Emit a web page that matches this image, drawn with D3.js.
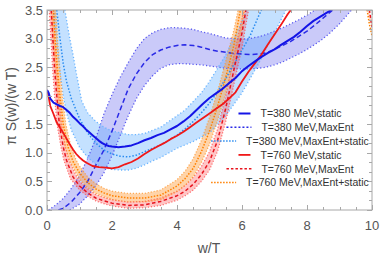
<!DOCTYPE html>
<html><head><meta charset="utf-8">
<script src="https://cdn.jsdelivr.net/npm/d3@7"></script>
<style>html,body{margin:0;padding:0;background:#fff;}svg{display:block;}</style>
</head><body>
<svg id="c" width="381" height="259"></svg>
<script>
// ---- data (x = w/T, y = pi S(w)/(w T)) ----
const xTicks = [0, 2, 4, 6, 8, 10];
const yTicks = [0.0, 0.5, 1.0, 1.5, 2.0, 2.5, 3.0, 3.5];
const legendLabels = ["T=380 MeV,static", "T=380 MeV,MaxEnt", "T=380 MeV,MaxEnt+static",
                      "T=760 MeV,static", "T=760 MeV,MaxEnt", "T=760 MeV,MaxEnt+static"];

const static380 = [[0,2.1],[0.05,2.05],[0.1,1.95],[0.2,1.88],[0.3,1.85],[0.4,1.82],[0.5,1.8],[0.6,1.75],[0.7,1.7],[0.8,1.63],[0.9,1.58],[1.0,1.52],[1.1,1.47],[1.2,1.41],[1.3,1.36],[1.4,1.31],[1.5,1.26],[1.6,1.21],[1.7,1.17],[1.8,1.14],[1.9,1.12],[2.0,1.11],[2.2,1.1],[2.4,1.11],[2.6,1.13],[2.8,1.17],[3.0,1.22],[3.2,1.26],[3.4,1.31],[3.6,1.35],[3.8,1.41],[4.0,1.47],[4.2,1.55],[4.4,1.64],[4.6,1.75],[4.8,1.86],[5.0,1.96],[5.2,2.04],[5.4,2.12],[5.6,2.22],[5.8,2.31],[6.0,2.43],[6.2,2.52],[6.4,2.6],[6.6,2.68],[6.8,2.75],[7.0,2.81],[7.2,2.89],[7.4,2.96],[7.6,3.03],[7.8,3.12],[8.0,3.22],[8.2,3.31],[8.4,3.38],[8.6,3.45],[8.75,3.5]];

const maxEnt380 = [[0.35,0],[0.5,0.03],[0.75,0.14],[1.0,0.3],[1.25,0.5],[1.5,0.78],[1.75,1.05],[2.0,1.38],[2.25,1.75],[2.5,2.12],[2.75,2.38],[3.0,2.58],[3.25,2.72],[3.5,2.8],[3.75,2.85],[4.0,2.88],[4.25,2.89],[4.5,2.88],[4.75,2.85],[5.0,2.81],[5.25,2.78],[5.5,2.76],[5.75,2.74],[6.0,2.73],[6.25,2.72],[6.5,2.73],[6.75,2.75],[7.0,2.81],[7.25,2.88],[7.5,2.95],[7.75,3.04],[8.0,3.13],[8.25,3.24],[8.5,3.36],[8.75,3.48],[9.0,3.6]];
const maxEnt380Up = [[0.05,0],[0.25,0.08],[0.5,0.2],[0.75,0.38],[1.0,0.6],[1.25,0.9],[1.5,1.25],[1.75,1.68],[2.0,2.02],[2.25,2.32],[2.5,2.58],[2.75,2.82],[3.0,3.0],[3.25,3.1],[3.5,3.16],[3.75,3.19],[4.0,3.19],[4.25,3.18],[4.5,3.16],[4.75,3.12],[5.0,3.09],[5.25,3.05],[5.5,3.01],[5.75,3.0],[6.0,2.99],[6.25,3.0],[6.5,3.03],[6.75,3.07],[7.0,3.13],[7.25,3.19],[7.5,3.26],[7.75,3.33],[8.0,3.41],[8.25,3.5],[8.5,3.6]];
const maxEnt380Lo = [[0.7,0],[1.0,0.1],[1.25,0.25],[1.5,0.42],[1.75,0.65],[2.0,0.95],[2.25,1.3],[2.5,1.65],[2.75,1.95],[3.0,2.18],[3.25,2.35],[3.5,2.48],[3.75,2.54],[4.0,2.56],[4.25,2.56],[4.5,2.55],[4.75,2.54],[5.0,2.52],[5.25,2.5],[5.5,2.48],[5.75,2.47],[6.0,2.47],[6.25,2.47],[6.5,2.48],[6.75,2.5],[7.0,2.54],[7.25,2.59],[7.5,2.66],[7.75,2.73],[8.0,2.81],[8.25,2.9],[8.5,3.0],[8.75,3.12],[9.0,3.26],[9.25,3.42],[9.4,3.52],[9.5,3.6]];

const mes380 = [[0.3,3.5],[0.4,3.0],[0.5,2.56],[0.6,2.25],[0.75,1.95],[1.0,1.6],[1.25,1.35],[1.5,1.17],[1.75,1.05],[2.0,0.98],[2.25,0.94],[2.5,0.93],[2.75,0.96],[3.0,1.02],[3.25,1.08],[3.5,1.14],[3.75,1.22],[4.0,1.31],[4.25,1.42],[4.5,1.55],[4.75,1.7],[5.0,1.87],[5.25,2.07],[5.5,2.3],[5.75,2.55],[6.0,2.8],[6.25,3.05],[6.5,3.38],[6.6,3.5]];
const mes380Up = [[0.55,3.5],[0.7,3.0],[0.8,2.72],[0.9,2.4],[1.07,1.9],[1.25,1.7],[1.5,1.55],[1.75,1.45],[2.0,1.38],[2.25,1.35],[2.5,1.32],[2.75,1.32],[3.0,1.34],[3.5,1.45],[4.0,1.65],[4.25,1.75],[4.5,1.9],[4.75,2.05],[5.0,2.25],[5.25,2.48],[5.5,2.72],[5.75,3.0],[6.0,3.3],[6.15,3.5]];
const mes380Lo = [[0.2,3.5],[0.3,2.9],[0.4,2.4],[0.5,2.0],[0.6,1.7],[0.75,1.4],[1.0,1.1],[1.25,0.92],[1.5,0.8],[1.75,0.74],[2.0,0.71],[2.25,0.7],[2.5,0.7],[2.75,0.73],[3.0,0.79],[3.25,0.86],[3.5,0.92],[3.75,1.0],[4.0,1.08],[4.5,1.2],[5.0,1.35],[5.5,1.65],[6.0,2.05],[6.5,2.55],[7.0,3.1],[7.35,3.5]];

const static760 = [[0,2.1],[0.03,2.05],[0.06,1.95],[0.1,1.82],[0.2,1.68],[0.3,1.53],[0.4,1.44],[0.5,1.35],[0.6,1.25],[0.7,1.15],[0.8,1.06],[0.9,0.98],[1.0,0.92],[1.1,0.87],[1.2,0.83],[1.4,0.77],[1.6,0.75],[1.8,0.74],[2.0,0.73],[2.2,0.75],[2.4,0.8],[2.6,0.84],[2.8,0.9],[3.0,0.98],[3.2,1.05],[3.4,1.11],[3.6,1.17],[3.8,1.24],[4.0,1.3],[4.2,1.37],[4.4,1.45],[4.6,1.53],[4.8,1.61],[5.0,1.69],[5.2,1.77],[5.4,1.85],[5.6,1.95],[5.8,2.06],[6.0,2.25],[6.2,2.42],[6.4,2.57],[6.6,2.72],[6.8,2.9],[7.0,3.07],[7.2,3.24],[7.4,3.42],[7.5,3.5]];

const maxEnt760 = [[0.13,3.5],[0.18,3.0],[0.23,2.5],[0.3,2.0],[0.38,1.5],[0.5,1.1],[0.6,0.87],[0.8,0.58],[1.0,0.42],[1.25,0.3],[1.5,0.21],[1.75,0.16],[2.0,0.12],[2.5,0.08],[3.0,0.09],[3.5,0.15],[4.0,0.25],[4.25,0.33],[4.5,0.45],[4.75,0.62],[5.0,0.85],[5.25,1.22],[5.5,1.78],[5.75,2.45],[6.0,3.1],[6.12,3.5]];
const maxEnt760Up = [[0.2,3.5],[0.25,3.0],[0.3,2.5],[0.37,2.0],[0.45,1.5],[0.57,1.1],[0.68,0.87],[0.88,0.62],[1.0,0.5],[1.25,0.37],[1.5,0.27],[1.75,0.22],[2.0,0.18],[2.5,0.14],[3.0,0.15],[3.5,0.21],[4.0,0.33],[4.25,0.43],[4.5,0.57],[4.75,0.76],[5.0,1.02],[5.25,1.42],[5.5,2.0],[5.75,2.7],[6.0,3.35],[6.05,3.5]];
const maxEnt760Lo = [[0.07,3.5],[0.12,3.0],[0.17,2.5],[0.23,2.0],[0.31,1.5],[0.43,1.1],[0.52,0.87],[0.72,0.55],[1.0,0.35],[1.25,0.24],[1.5,0.16],[1.75,0.11],[2.0,0.07],[2.5,0.03],[3.0,0.04],[3.5,0.08],[4.0,0.17],[4.25,0.25],[4.5,0.35],[4.75,0.5],[5.0,0.7],[5.25,1.03],[5.5,1.55],[5.75,2.2],[6.0,2.85],[6.2,3.5]];
const maxEnt760Tail = [[9.92,3.5],[9.96,3.35],[10.0,3.2]];

const mes760 = [[0.2,3.5],[0.25,3.0],[0.32,2.5],[0.4,2.0],[0.5,1.5],[0.65,1.1],[0.8,0.85],[1.0,0.65],[1.25,0.48],[1.5,0.37],[1.75,0.3],[2.0,0.25],[2.5,0.21],[3.0,0.21],[3.5,0.26],[4.0,0.42],[4.25,0.55],[4.5,0.73],[4.75,1.02],[5.0,1.38],[5.25,1.82],[5.5,2.32],[5.75,2.88],[5.95,3.5]];
const mes760Up = [[0.27,3.5],[0.32,3.0],[0.39,2.5],[0.47,2.0],[0.58,1.5],[0.74,1.1],[0.9,0.87],[1.0,0.77],[1.25,0.58],[1.5,0.46],[1.75,0.38],[2.0,0.33],[2.5,0.29],[3.0,0.29],[3.5,0.35],[4.0,0.53],[4.25,0.68],[4.5,0.9],[4.75,1.22],[5.0,1.62],[5.25,2.08],[5.5,2.6],[5.75,3.15],[5.88,3.5]];
const mes760Lo = [[0.13,3.5],[0.18,3.0],[0.25,2.5],[0.33,2.0],[0.42,1.5],[0.56,1.1],[0.7,0.85],[1.0,0.54],[1.25,0.39],[1.5,0.29],[1.75,0.23],[2.0,0.18],[2.5,0.14],[3.0,0.14],[3.5,0.18],[4.0,0.32],[4.25,0.43],[4.5,0.58],[4.75,0.83],[5.0,1.15],[5.25,1.57],[5.5,2.05],[5.75,2.6],[6.0,3.2],[6.08,3.5]];
const mes760Tail = [[9.85,3.5],[9.92,3.25],[10.0,3.05]];
const tailBandUp = [[9.9,3.6],[9.96,3.4],[10.05,3.25]];
const tailBandLo = [[10.05,3.1],[9.94,3.3],[9.82,3.6]];

// ---- layout ----
const L = 47, R = 372, T = 10, B = 210;
const x = d3.scaleLinear().domain([0, 10]).range([L, R]);
const y = d3.scaleLinear().domain([0, 3.5]).range([B, T]);
const svg = d3.select("#c");
const font = "Liberation Sans, Arial, sans-serif";

svg.append("clipPath").attr("id", "clip").append("rect")
  .attr("x", L).attr("y", T).attr("width", R - L).attr("height", B - T);
const plot = svg.append("g").attr("clip-path", "url(#clip)");

const line = d3.line().x(d => x(d[0])).y(d => y(d[1]));

function band(up, lo, fill, op) {
  const pts = up.concat(lo.slice().reverse());
  plot.append("path").attr("d", line(pts) + "Z").attr("fill", fill).attr("fill-opacity", op).attr("stroke", "none");
}
function curve(data, color, w, dash, op) {
  plot.append("path").attr("d", line(data)).attr("fill", "none").attr("stroke", color)
    .attr("stroke-width", w).attr("stroke-dasharray", dash || null).attr("stroke-opacity", op == null ? 1 : op)
    .attr("stroke-linejoin", "round");
}

// bands
band(maxEnt380Up, maxEnt380Lo, "#6666ee", 0.35);
band(mes380Up, mes380Lo, "#55aaff", 0.35);
band(maxEnt760Up, maxEnt760Lo, "#ff5a5a", 0.35);
band(mes760Up, mes760Lo, "#ffa040", 0.45);
band(tailBandUp, tailBandLo, "#ff8855", 0.4);

// band edges
curve(maxEnt380Up, "#5a5af0", 1.3, "1.2,2.2");
curve(maxEnt380Lo, "#5a5af0", 1.3, "1.2,2.2");
curve(mes380Up, "#6ab4ff", 1.3, "1.2,2.2");
curve(mes380Lo, "#6ab4ff", 1.3, "1.2,2.2");
curve(maxEnt760Up, "#ff5050", 1.2, "1.2,1.8", 0.8);
curve(maxEnt760Lo, "#ff5050", 1.2, "1.2,1.8", 0.8);
curve(mes760Up, "#ff9933", 1.2, "1.2,1.8", 0.8);
curve(mes760Lo, "#ff9933", 1.2, "1.2,1.8", 0.8);

// central curves
curve(maxEnt380, "#2a2ae6", 1.5, "5,3");
curve(mes380, "#2a8cf0", 1.5, "1.5,1.8");
curve(maxEnt760, "#e8141e", 1.5, "3.5,2.5");
curve(mes760, "#ff8000", 1.5, "1.5,1.5");
curve(maxEnt760Tail, "#e8141e", 1.5, "3,2");
curve(mes760Tail, "#ff8000", 1.5, "1.5,1.5");
curve(static760, "#f01818", 1.8);
curve(static380, "#1414e6", 2.0);

// frame & ticks
const frameCol = "#a8a8a8";
svg.append("rect").attr("x", L).attr("y", T).attr("width", R - L).attr("height", B - T)
  .attr("fill", "none").attr("stroke", frameCol).attr("stroke-width", 1);
const tg = svg.append("g").attr("stroke", frameCol).attr("stroke-width", 1);
d3.range(0, 21).forEach(i => {
  const v = i * 0.5;
  const major = i % 4 === 0;
  const len = major ? 5 : 3;
  const px = Math.round(x(v)) + 0.5;
  tg.append("line").attr("x1", px).attr("x2", px).attr("y1", B).attr("y2", B - len);
  tg.append("line").attr("x1", px).attr("x2", px).attr("y1", T).attr("y2", T + len);
});
d3.range(0, 22).forEach(i => {
  const v = i * 0.5 / 3;
  const major = i % 3 === 0;
  const len = major ? 5 : 3;
  const py = Math.round(y(v)) + 0.5;
  tg.append("line").attr("x1", L).attr("x2", L + len).attr("y1", py).attr("y2", py);
  tg.append("line").attr("x1", R).attr("x2", R - len).attr("y1", py).attr("y2", py);
});

// tick labels
const labCol = "#555";
xTicks.forEach(v => {
  svg.append("text").attr("x", x(v)).attr("y", 230).attr("text-anchor", "middle")
    .attr("font-family", font).attr("font-size", 13).attr("fill", labCol).text(d3.format("d")(v));
});
yTicks.forEach(v => {
  svg.append("text").attr("x", 43).attr("y", y(v) + 4.5).attr("text-anchor", "end")
    .attr("font-family", font).attr("font-size", 13).attr("fill", labCol).text(d3.format(".1f")(v));
});
svg.append("text").attr("x", 209).attr("y", 253).attr("text-anchor", "middle")
  .attr("font-family", font).attr("font-size", 14).attr("fill", labCol).text("w/T");
svg.append("text").attr("transform", "translate(16,106) rotate(-90)")
  .attr("text-anchor", "middle").attr("font-family", font).attr("font-size", 14).attr("fill", labCol)
  .text("π S(w)/(w T)");

// legend
const legStyles = [
  {c: "#1414e6", w: 2, d: null, len: 12},
  {c: "#2a2ae6", w: 1.5, d: "2,2", len: 25},
  {c: "#2a8cf0", w: 1.5, d: "1.5,1.5", len: 25},
  {c: "#f01818", w: 1.8, d: null, len: 12},
  {c: "#e8141e", w: 1.5, d: "2.5,2", len: 25},
  {c: "#ff8000", w: 1.5, d: "1.5,1.5", len: 25}
];
const rowCenter = 290;
legendLabels.forEach((lab, i) => {
  const yy = 113.5 + i * 13.8;
  const g = svg.append("g");
  const t = g.append("text").attr("y", yy + 3.8).attr("font-family", font).attr("font-size", 10.5)
    .attr("fill", "#333").text(lab);
  const tw = t.node().getComputedTextLength();
  const s = legStyles[i];
  const gap = 10;
  const total = s.len + gap + tw;
  const x0 = rowCenter - total / 2;
  g.append("line").attr("x1", x0).attr("x2", x0 + s.len).attr("y1", yy).attr("y2", yy)
    .attr("stroke", s.c).attr("stroke-width", s.w).attr("stroke-dasharray", s.d);
  t.attr("x", x0 + s.len + gap);
});
</script>
</body></html>
